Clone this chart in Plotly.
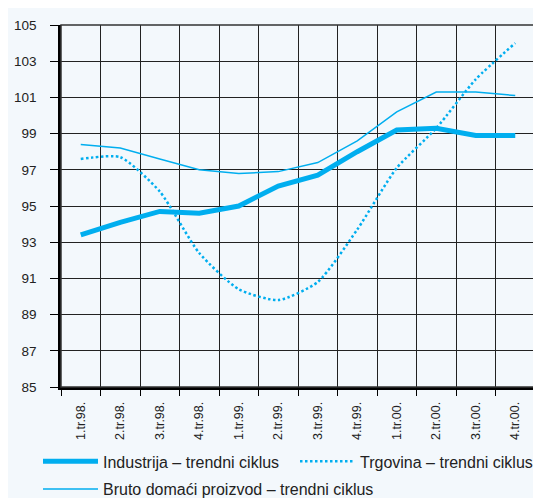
import plotly.graph_objects as go

categories = ["1.tr.98.", "2.tr.98.", "3.tr.98.", "4.tr.98.",
              "1.tr.99.", "2.tr.99.", "3.tr.99.", "4.tr.99.",
              "1.tr.00.", "2.tr.00.", "3.tr.00.", "4.tr.00."]
industrija = [93.4, 94.1, 94.7, 94.6, 95.0, 96.1, 96.7, 98.0, 99.2, 99.3, 98.9, 98.9]
trgovina = [97.6, 97.7, 95.8, 92.4, 90.4, 89.8, 90.8, 93.7, 97.1, 99.3, 102.0, 104.0]
bdp = [98.4, 98.2, 97.6, 97.0, 96.8, 96.9, 97.4, 98.6, 100.2, 101.3, 101.3, 101.1]
y_ticks = [85, 87, 89, 91, 93, 95, 97, 99, 101, 103, 105]

CYAN = "#00aeef"
BG = "#f3f8fc"
FONT = "Liberation Sans, Arial, Helvetica, sans-serif"

fig = go.Figure()
fig.add_trace(go.Scatter(x=categories, y=industrija, mode="lines",
                         name="Industrija – trendni ciklus", legend="legend",
                         line=dict(color=CYAN, width=5)))
fig.add_trace(go.Scatter(x=categories, y=trgovina, mode="lines",
                         name="Trgovina – trendni ciklus", legend="legend2",
                         line=dict(color=CYAN, width=2.5, dash="2.5px,2.5px",
                                   shape="spline", smoothing=0.6)))
fig.add_trace(go.Scatter(x=categories, y=bdp, mode="lines",
                         name="Bruto domaći proizvod – trendni ciklus", legend="legend3",
                         line=dict(color=CYAN, width=1.5)))

leg_common = dict(orientation="h", xanchor="left", yanchor="bottom",
                  xref="container", yref="container",
                  font=dict(size=16, color="#222"), itemwidth=55,
                  bgcolor="rgba(0,0,0,0)", borderwidth=0)

fig.update_layout(
    width=541, height=498,
    margin=dict(l=53, r=14, t=17, b=119, autoexpand=False),
    paper_bgcolor=BG, plot_bgcolor=BG,
    font=dict(family=FONT, size=13, color="#222"),
    showlegend=True,
    legend=dict(x=30 / 541, y=27.6 / 498, **leg_common),
    legend2=dict(x=287 / 541, y=27.6 / 498, **leg_common),
    legend3=dict(x=30 / 541, y=0, **leg_common),
    shapes=[dict(type="rect", xref="paper", yref="paper", x0=0, x1=1, y0=0, y1=1,
                 line=dict(color="#333", width=1.5), layer="above")],
)
fig.update_xaxes(type="category", tickson="boundaries", showgrid=True,
                 gridcolor="#222", gridwidth=1, showline=True, linecolor="#000",
                 linewidth=2.5, ticks="outside", ticklen=6, tickcolor="#000",
                 tickangle=-90, tickfont=dict(size=12.5, color="#222"),
                 ticklabelstandoff=7,
                 range=[-0.5, 11.5], fixedrange=True)
fig.update_yaxes(range=[85, 105], tickvals=y_ticks, showgrid=True,
                 gridcolor="#222", gridwidth=1, showline=True, linecolor="#000",
                 linewidth=2.5, ticks="outside", ticklen=8, tickcolor="#000",
                 tickfont=dict(size=13.5, color="#222"), zeroline=False,
                 ticklabelstandoff=11, fixedrange=True)

fig.write_html("out.html")
